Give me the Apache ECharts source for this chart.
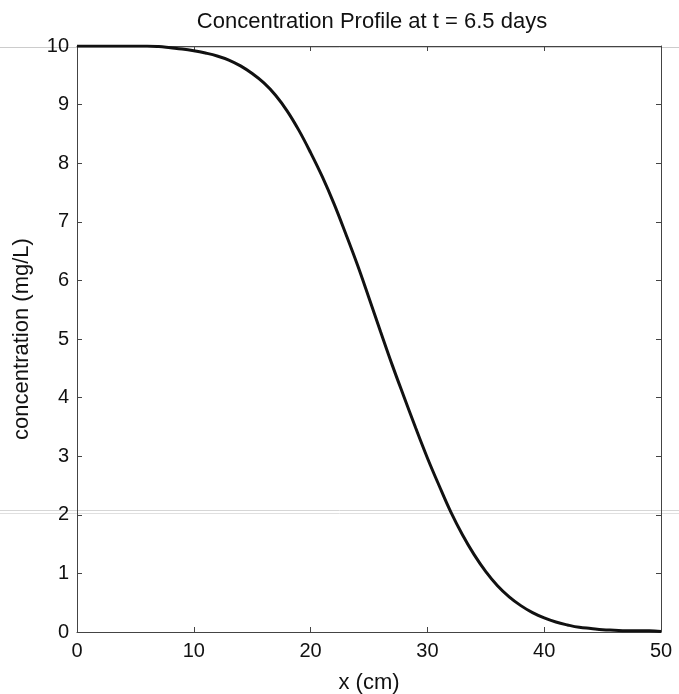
<!DOCTYPE html>
<html>
<head>
    <meta charset="utf-8">
    <title>Concentration Profile</title>
    <script src="https://cdn.jsdelivr.net/npm/echarts@6/dist/echarts.min.js"></script>
    <style>
        html,body{
            height: 100%;
            margin: 0;
            padding: 0;
            background: #fff;
        }
    </style>
</head>
<body>
    <div id="main" style="width: 679px;height:694px;"></div>
    <script type="text/javascript">
    // x positions (cm) and concentration (mg/L)
    var xCm = [0,1,2,3,4,5,6,7,8,9,10,11,12,13,14,15,16,17,18,19,20,21,22,23,24,25,
               26,27,28,29,30,31,32,33,34,35,36,37,38,39,40,41,42,43,44,45,46,47,48,49,50];
    var conc = [10,10,10,10,10,10,10,9.99,9.97,9.95,9.92,9.88,9.83,9.76,9.66,9.53,9.37,9.16,8.89,8.56,8.18,7.77,7.31,6.80,6.27,5.70,
                5.12,4.55,4.01,3.48,2.97,2.50,2.05,1.66,1.32,1.03,0.79,0.60,0.45,0.33,0.24,0.17,0.12,0.08,0.06,0.04,0.03,0.02,0.02,0.02,0.01];
    var xTicks = [0,10,20,30,40,50];
    var yTicks = [0,1,2,3,4,5,6,7,8,9,10];

    var points = [];
    for(var i = 0; i < xCm.length; i++){
        points.push([xCm[i], conc[i]]);
    }

    var font = 'Liberation Sans, Arial, sans-serif';
    var axisColor = '#444';

    // box axes: same look for all four sides, ticks pointing in
    var boxLine = {show: true, onZero: false, lineStyle: {color: axisColor, width: 1}};
    var boxTick = {show: true, inside: true, length: 5, lineStyle: {color: axisColor}};

    var myChart = echarts.init(document.getElementById('main'));

    var option = {
        animation: false,
        backgroundColor: '#fff',
        title: {
            text: 'Concentration Profile at t = 6.5 days',
            left: 367,
            textAlign: 'center',
            top: 6,
            textStyle: {
                fontFamily: font,
                fontSize: 22,
                fontWeight: 'normal',
                color: '#111'
            }
        },
        grid: {
            left: 77,
            right: 18,
            top: 46,
            bottom: 62,
            outerBoundsMode: 'none'
        },
        // faint scan lines across the page
        graphic: [
            {type: 'line', shape: {x1: 0, y1: 47.5, x2: 679, y2: 47.5}, style: {stroke: '#ccc', lineWidth: 1}, z: 0},
            {type: 'line', shape: {x1: 0, y1: 510.5, x2: 679, y2: 510.5}, style: {stroke: '#d6d6d6', lineWidth: 1}, z: 0},
            {type: 'line', shape: {x1: 0, y1: 513.5, x2: 679, y2: 513.5}, style: {stroke: '#e0e0e0', lineWidth: 1}, z: 0}
        ],
        xAxis: [
            {
                type: 'value',
                min: 0,
                max: 50,
                interval: 10,
                name: 'x (cm)',
                nameLocation: 'middle',
                nameGap: 40,
                nameTextStyle: {fontFamily: font, fontSize: 22, color: '#111'},
                axisLine: boxLine,
                axisTick: boxTick,
                axisLabel: {
                    fontFamily: font, fontSize: 20, color: '#111', margin: 9,
                    formatter: function(v){ return xTicks.indexOf(v) >= 0 ? String(v) : ''; }
                },
                splitLine: {show: false}
            },
            {
                type: 'value',
                position: 'top',
                min: 0,
                max: 50,
                interval: 10,
                axisLine: boxLine,
                axisTick: boxTick,
                axisLabel: {show: false},
                splitLine: {show: false}
            }
        ],
        yAxis: [
            {
                type: 'value',
                min: 0,
                max: 10,
                interval: 1,
                name: 'concentration (mg/L)',
                nameLocation: 'middle',
                nameGap: 44,
                nameTextStyle: {fontFamily: font, fontSize: 22, color: '#111'},
                axisLine: boxLine,
                axisTick: boxTick,
                axisLabel: {
                    fontFamily: font, fontSize: 20, color: '#111', margin: 8,
                    formatter: function(v){ return yTicks.indexOf(v) >= 0 ? String(v) : ''; }
                },
                splitLine: {show: false}
            },
            {
                type: 'value',
                position: 'right',
                min: 0,
                max: 10,
                interval: 1,
                axisLine: boxLine,
                axisTick: boxTick,
                axisLabel: {show: false},
                splitLine: {show: false}
            }
        ],
        series: [
            {
                name: 'concentration',
                type: 'line',
                data: points,
                showSymbol: false,
                smooth: 0.4,
                lineStyle: {color: '#111', width: 3},
                z: 5
            }
        ]
    };

    myChart.setOption(option);
    </script>
</body>
</html>
